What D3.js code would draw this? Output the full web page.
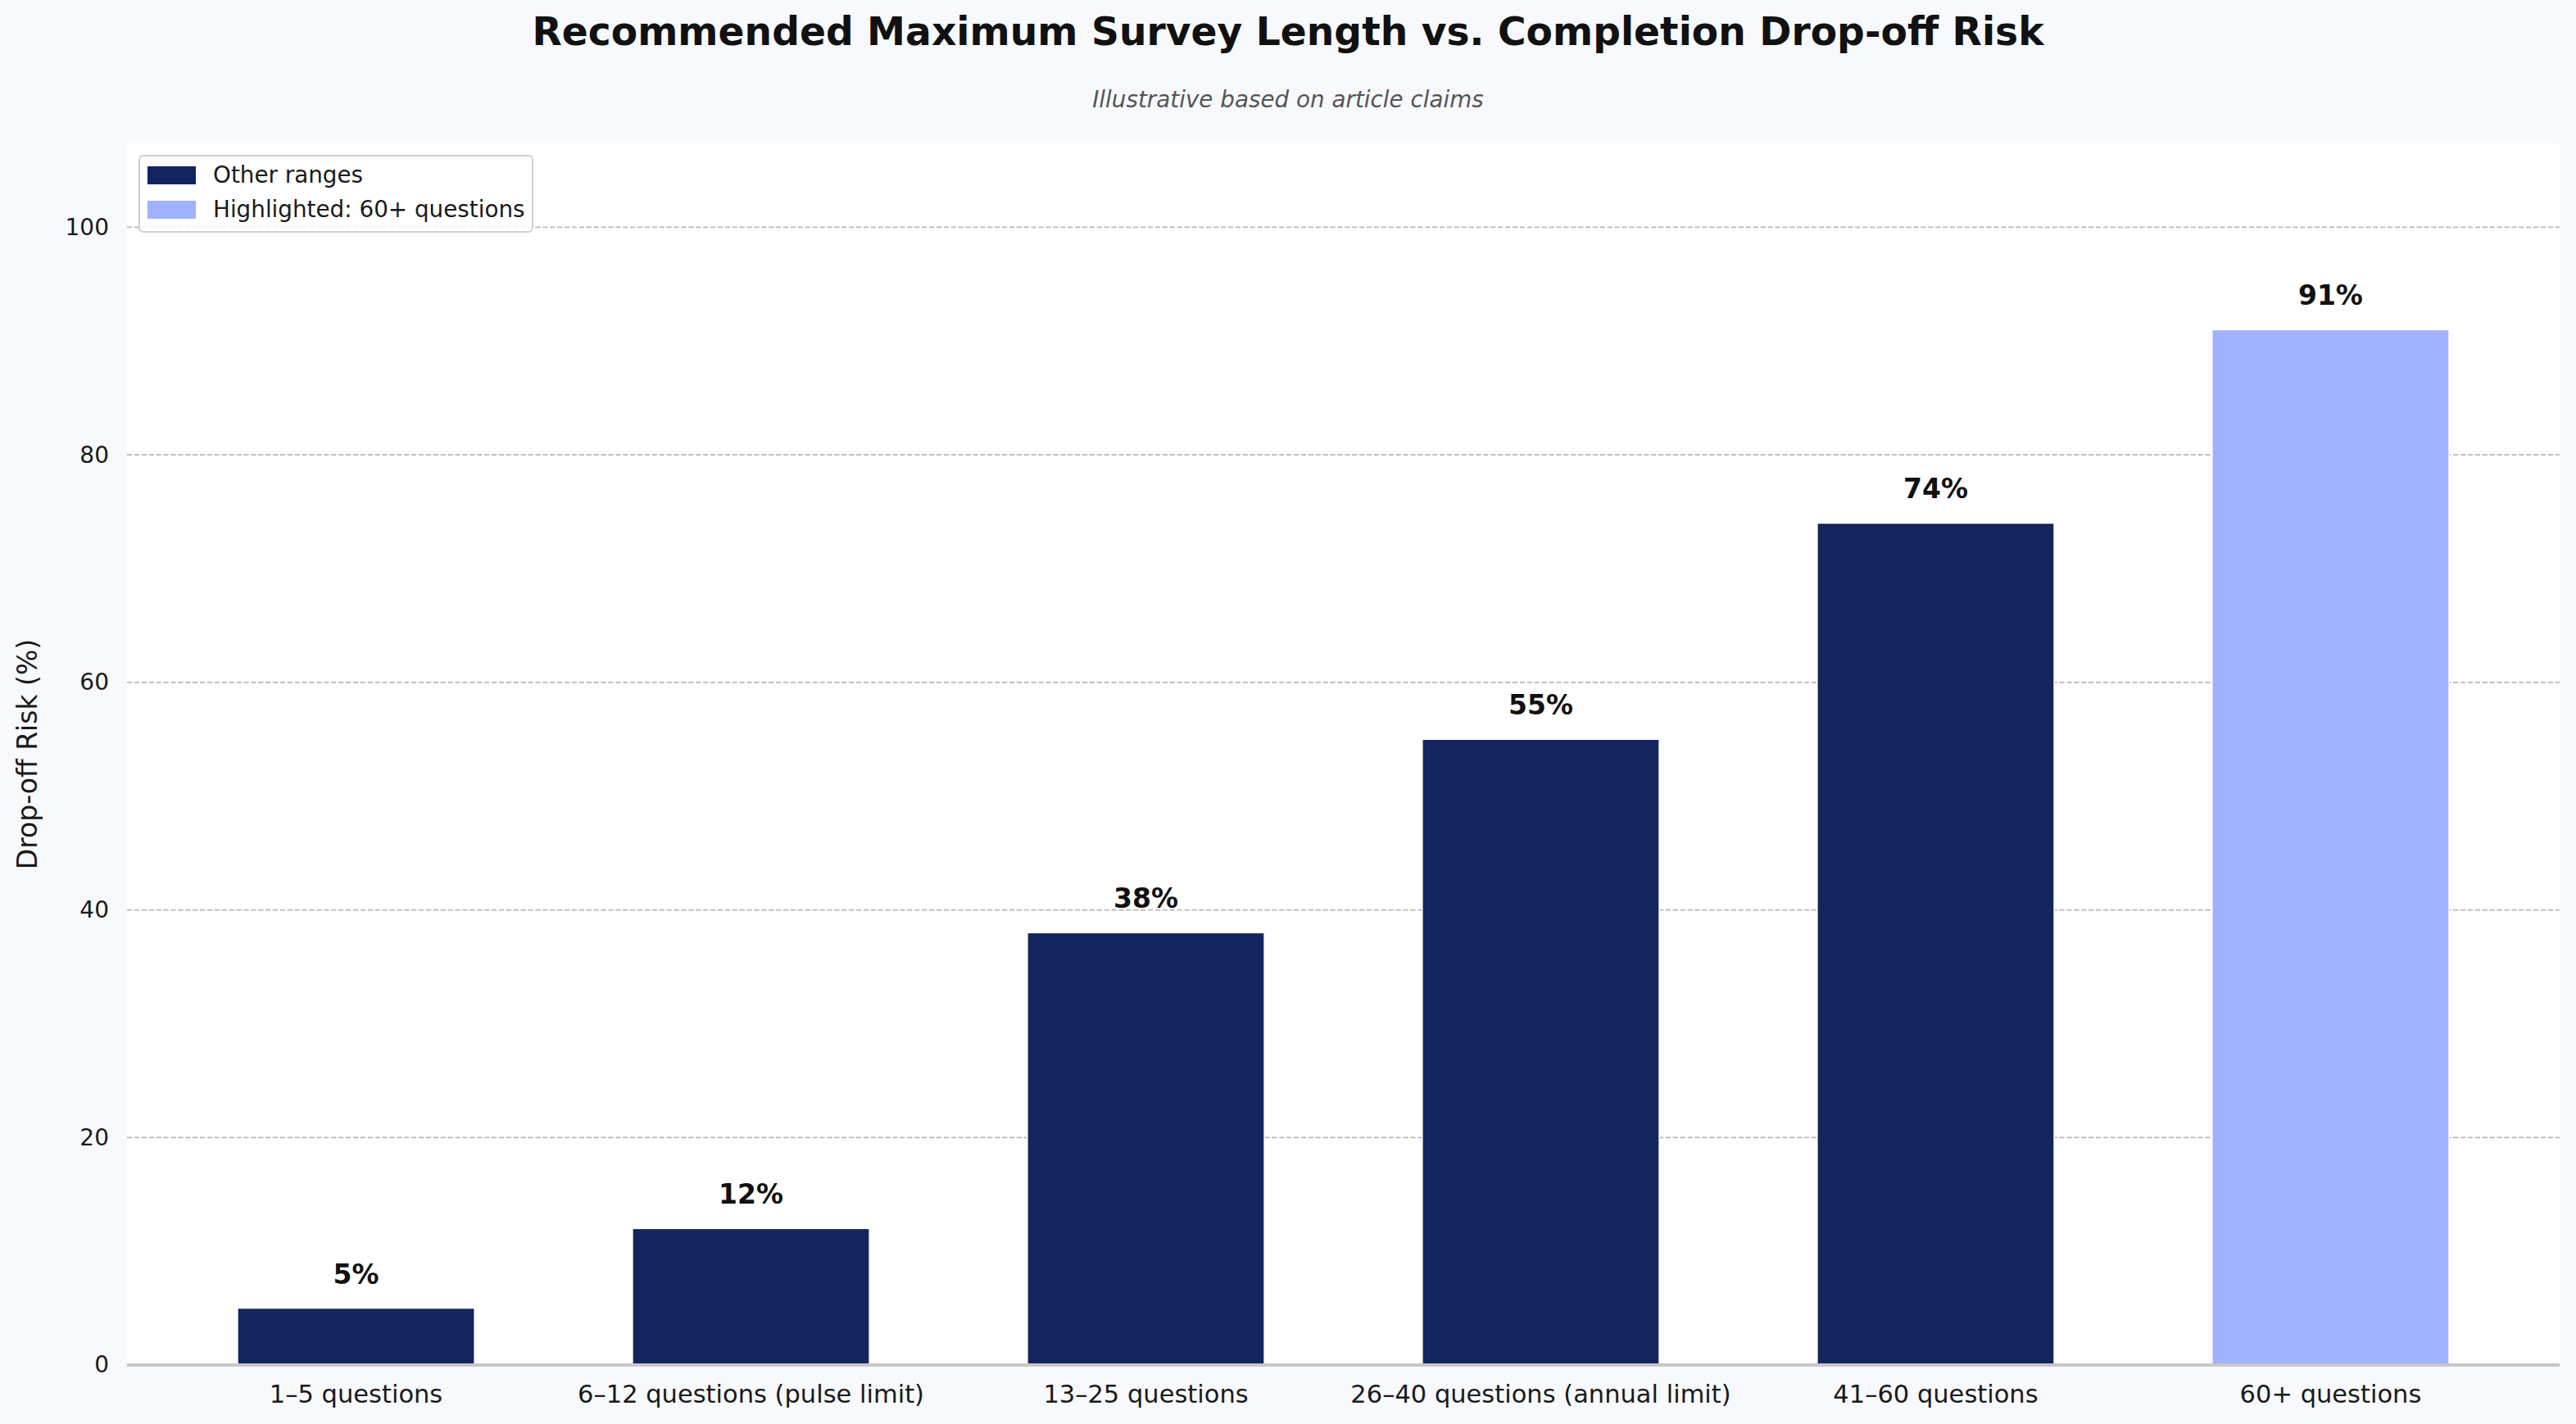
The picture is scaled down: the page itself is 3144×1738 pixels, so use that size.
<!DOCTYPE html>
<html>
<head>
<meta charset="utf-8">
<script src="https://cdn.jsdelivr.net/npm/d3@7"></script>
<style>
	html, body { margin: 0; padding: 0; background: #f7f9fc; }
	svg { display: block; font-family: "DejaVu Sans", sans-serif; }
</style>
</head>
<body>
<svg id="chart"></svg>
<script>
'use strict';

// chart data
var categories = ['1–5 questions', '6–12 questions (pulse limit)', '13–25 questions',
	'26–40 questions (annual limit)', '41–60 questions', '60+ questions'];
var dropOffRisk = [5, 12, 38, 55, 74, 91];
var highlighted = '60+ questions';
var yTicks = [0, 20, 40, 60, 80, 100];
var legendLabels = ['Other ranges', 'Highlighted: 60+ questions'];

var titleText = 'Recommended Maximum Survey Length vs. Completion Drop-off Risk';
var subtitleText = 'Illustrative based on article claims';
var yLabelText = 'Drop-off Risk (%)';

// colours
var darkColor = '#14245c';
var lightColor = '#a0b1fd';

var draw = function(svg, width, height) {
	svg.attr('width', width).attr('height', height);

	// plot area
	var left = 155, right = 3124, top = 175, bottom = 1666;

	svg.append('rect')
		.attr('x', left).attr('y', top)
		.attr('width', right - left).attr('height', bottom - top)
		.attr('fill', '#ffffff');

	// x/y scales
	var xScale = d3.scaleBand()
		.domain(categories)
		.range([left, right])
		.paddingInner(0.4)
		.paddingOuter(0.28);
	var yScale = d3.scaleLinear()
		.domain([0, d3.max(dropOffRisk) * 1.18])
		.range([bottom, top]);

	// horizontal grid
	svg.append('g').attr('class', 'grid')
		.selectAll('line')
		.data(yTicks.filter(function(t) { return t > 0; }))
		.enter().append('line')
		.attr('x1', left).attr('x2', right)
		.attr('y1', function(d) { return yScale(d); })
		.attr('y2', function(d) { return yScale(d); })
		.attr('stroke', '#b8b8b8')
		.attr('stroke-width', 1.7)
		.attr('stroke-dasharray', '6.2,2.7');

	// bars
	var data = categories.map(function(c, i) { return { cat: c, value: dropOffRisk[i] }; });
	svg.append('g').attr('class', 'bars')
		.selectAll('rect')
		.data(data)
		.enter().append('rect')
		.attr('x', function(d) { return xScale(d.cat); })
		.attr('y', function(d) { return yScale(d.value); })
		.attr('width', xScale.bandwidth())
		.attr('height', function(d) { return yScale(0) - yScale(d.value); })
		.attr('fill', function(d) { return d.cat === highlighted ? lightColor : darkColor; })
		.attr('stroke', '#ffffff')
		.attr('stroke-width', 1.5);

	// value labels
	svg.append('g').attr('class', 'values')
		.selectAll('text')
		.data(data)
		.enter().append('text')
		.attr('x', function(d) { return xScale(d.cat) + xScale.bandwidth() / 2; })
		.attr('y', function(d) { return yScale(d.value) - 30; })
		.attr('text-anchor', 'middle')
		.attr('font-size', 33)
		.attr('font-weight', 'bold')
		.attr('fill', '#111111')
		.text(function(d) { return d.value + '%'; });

	// bottom spine
	svg.append('line')
		.attr('x1', left).attr('x2', right)
		.attr('y1', bottom).attr('y2', bottom)
		.attr('stroke', '#c8c8c8')
		.attr('stroke-width', 4);

	// axes
	var xAxis = svg.append('g')
		.attr('transform', 'translate(0,' + bottom + ')')
		.call(d3.axisBottom(xScale).tickSize(0).tickPadding(24));
	xAxis.select('.domain').remove();
	xAxis.selectAll('text')
		.attr('font-size', 30.5)
		.attr('font-family', '"DejaVu Sans", sans-serif')
		.attr('fill', '#1a1a1a');

	var yAxis = svg.append('g')
		.attr('transform', 'translate(' + left + ',0)')
		.call(d3.axisLeft(yScale).tickValues(yTicks).tickSize(0).tickPadding(22));
	yAxis.select('.domain').remove();
	yAxis.selectAll('text')
		.attr('font-size', 28)
		.attr('font-family', '"DejaVu Sans", sans-serif')
		.attr('fill', '#1a1a1a');

	// y label
	svg.append('text')
		.attr('transform', 'translate(45,' + ((top + bottom) / 2) + ') rotate(-90)')
		.attr('text-anchor', 'middle')
		.attr('font-size', 33)
		.attr('fill', '#1a1a1a')
		.text(yLabelText);

	// title + subtitle
	svg.append('text')
		.attr('x', width / 2).attr('y', 55)
		.attr('text-anchor', 'middle')
		.attr('font-size', 47.2)
		.attr('font-weight', 'bold')
		.attr('fill', '#111111')
		.text(titleText);
	svg.append('text')
		.attr('x', width / 2).attr('y', 131)
		.attr('text-anchor', 'middle')
		.attr('font-size', 27.8)
		.attr('font-style', 'italic')
		.attr('fill', '#555555')
		.text(subtitleText);

	// legend
	var legend = svg.append('g').attr('class', 'legend');
	legend.append('rect')
		.attr('x', 170).attr('y', 190)
		.attr('width', 480).attr('height', 93)
		.attr('rx', 5)
		.attr('fill', '#ffffff').attr('fill-opacity', 0.85)
		.attr('stroke', '#d0d0d0').attr('stroke-width', 2);
	var items = legend.selectAll('g.item')
		.data(legendLabels)
		.enter().append('g')
		.attr('class', 'item')
		.attr('transform', function(d, i) { return 'translate(180,' + (203 + i * 42) + ')'; });
	items.append('rect')
		.attr('width', 59).attr('height', 22)
		.attr('fill', function(d, i) { return i === 0 ? darkColor : lightColor; });
	items.append('text')
		.attr('x', 80).attr('y', 20)
		.attr('font-size', 27.8)
		.attr('fill', '#1a1a1a')
		.text(function(d) { return d; });
};

draw(d3.select('#chart'), 3144, 1738);
</script>
</body>
</html>
